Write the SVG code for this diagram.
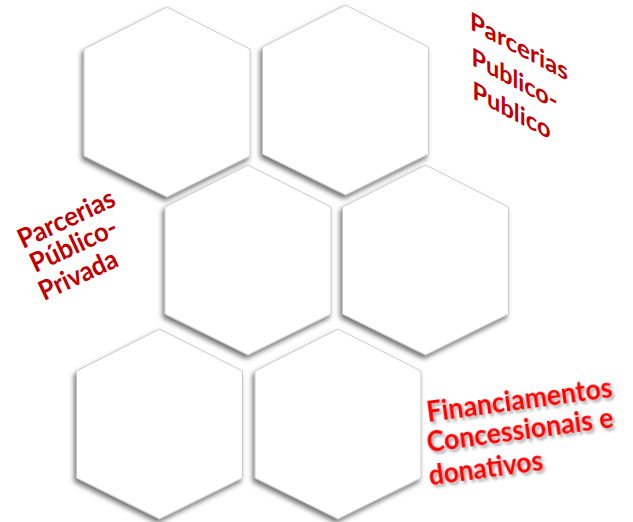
<svg xmlns="http://www.w3.org/2000/svg" width="633" height="522" viewBox="0 0 633 522">
<style>
.hex{fill:#ffffff;stroke:#c4c4c4;stroke-width:0.9;filter:url(#sh)}
.lbl{font-family:Lato,"Open Sans","Liberation Sans",sans-serif;font-weight:700}
.dk{fill:#c00000}
.br{fill:#ff0000;filter:url(#tsh)}
</style>
<defs>
<filter id="sh" x="-20%" y="-20%" width="140%" height="140%">
<feDropShadow dx="-2" dy="3.5" stdDeviation="2.5" flood-color="#000" flood-opacity="0.55"/>
</filter>
<filter id="tsh" x="-10%" y="-20%" width="120%" height="140%">
<feDropShadow dx="2" dy="3" stdDeviation="1.5" flood-color="#000" flood-opacity="0.35"/>
</filter>
<path id="hx" d="M0,-95 L83,-53 L83,54 L0,95 L-83,54 L-83,-53 Z"/>
</defs>
<rect width="633" height="522" fill="#ffffff"/>
<g id="connectors"/>
<g id="hex1"><use href="#hx" class="hex" transform="translate(167,102)"/></g>
<g id="hex2"><use href="#hx" class="hex" transform="translate(345.5,100)"/></g>
<g id="hex3"><use href="#hx" class="hex" transform="translate(248,260)"/></g>
<g id="hex4"><use href="#hx" class="hex" transform="translate(425.5,260)"/></g>
<g id="hex5"><use href="#hx" class="hex" transform="translate(159.5,424)"/></g>
<g id="hex6"><use href="#hx" class="hex" transform="translate(338,424)"/></g>
<g id="label-ppp" class="lbl dk" font-size="25" transform="translate(470,29) skewY(28)">
<text x="0" y="0" textLength="98" lengthAdjust="spacingAndGlyphs">Parcerias</text>
<text x="1.5" y="35" textLength="86" lengthAdjust="spacingAndGlyphs">Publico-</text>
<text x="2.5" y="68" textLength="78" lengthAdjust="spacingAndGlyphs">Publico</text>
</g>
<g id="label-ppriv" class="lbl dk" font-size="27" transform="translate(23,249) rotate(-25)">
<text x="0" y="0" textLength="104" lengthAdjust="spacingAndGlyphs">Parcerias</text>
<text x="1" y="27" textLength="93" lengthAdjust="spacingAndGlyphs">Público-</text>
<text x="-3" y="56" textLength="84" lengthAdjust="spacingAndGlyphs">Privada</text>
</g>
<g id="label-fin" class="lbl br" font-size="28" transform="translate(428,422) rotate(-7.7)">
<text x="0" y="0" textLength="187" lengthAdjust="spacingAndGlyphs">Financiamentos</text>
<text x="-4" y="30" textLength="188" lengthAdjust="spacingAndGlyphs">Concessionais e</text>
<text x="-6.5" y="63" textLength="115" lengthAdjust="spacingAndGlyphs">donativos</text>
</g>
</svg>
